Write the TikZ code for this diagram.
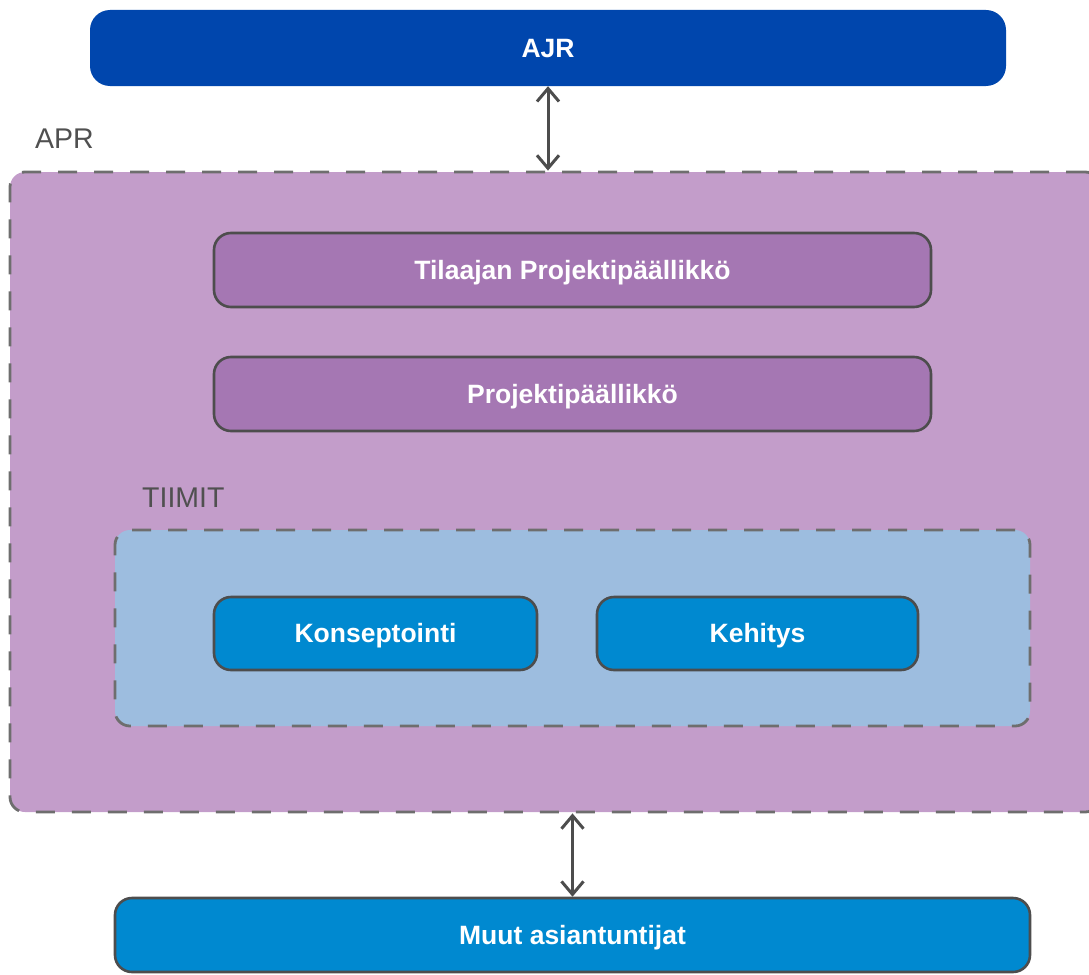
\documentclass[tikz,border=0pt]{standalone}
\usepackage{fontspec}
\setmainfont{Liberation Sans}
\usetikzlibrary{arrows.meta}
\definecolor{ajrblue}{RGB}{0,70,173}
\definecolor{aprfill}{RGB}{195,157,202}
\definecolor{rolefill}{RGB}{165,119,179}
\definecolor{teamfill}{RGB}{157,189,223}
\definecolor{unitblue}{RGB}{0,137,208}
\definecolor{edge}{RGB}{77,77,77}
\definecolor{dashgrey}{RGB}{110,110,110}
\definecolor{labelgrey}{RGB}{80,80,80}
\tikzset{
  px/.style={x=1pt,y=-1pt},
  boxtext/.style={text=white,font=\bfseries\fontsize{26.5}{30}\selectfont,
    inner sep=0pt,text height=19pt,text depth=1pt},
  plainbox/.style={boxtext,rectangle,rounded corners=20pt},
  rolebox/.style={boxtext,rectangle,draw=edge,line width=2.6pt,rounded corners=17pt},
  groupbox/.style={rectangle,draw=dashgrey,line width=2.8pt,dash pattern=on 19pt off 17pt,rounded corners=15pt,inner sep=0pt},
  grouplabel/.style={text=labelgrey,font=\fontsize{28.5}{32}\selectfont,anchor=base west,inner sep=0pt},
  link/.style={draw=edge,line width=3pt,{Straight Barb[length=13pt,width=22pt,line width=3pt]}-{Straight Barb[length=13pt,width=22pt,line width=3pt]}}
}
\begin{document}
\begin{tikzpicture}[px]
\useasboundingbox (0,0) rectangle (1089,974);
\clip (0,0) rectangle (1089,974);
% outer group APR (runs past the right edge)
\node[groupbox,fill=aprfill,minimum width=1090pt,minimum height=640pt] (apr) at (555,492) {};
\node[grouplabel] (aprlabel) at (35,148) {APR};
% client side on top
\node[plainbox,fill=ajrblue,minimum width=916pt,minimum height=76pt] (ajr) at (548,48) {AJR};
\draw[link] (ajr.south) -- (ajr.south |- apr.north);
% role boxes
\node[rolebox,fill=rolefill,minimum width=717pt,minimum height=74pt] (tilaaja) at (572.5,270) {Tilaajan Projektipäällikkö};
\node[rolebox,fill=rolefill,minimum width=717pt,minimum height=74pt] (pp) at (572.5,394) {Projektipäällikkö};
% teams group
\node[grouplabel] (tiimitlabel) at (142,507) {TIIMIT};
\node[groupbox,fill=teamfill,minimum width=915pt,minimum height=196pt] (tiimit) at (572.5,628) {};
\node[rolebox,fill=unitblue,minimum width=323pt,minimum height=73pt] (konsept) at (375.5,633.5) {Konseptointi};
\node[rolebox,fill=unitblue,minimum width=321pt,minimum height=73pt] (kehitys) at (757.5,633.5) {Kehitys};
% other experts below
\node[rolebox,fill=unitblue,minimum width=915pt,minimum height=74pt] (muut) at (572.5,935) {Muut asiantuntijat};
\draw[link] (muut.north) -- (muut.north |- apr.south);
\end{tikzpicture}
\end{document}
